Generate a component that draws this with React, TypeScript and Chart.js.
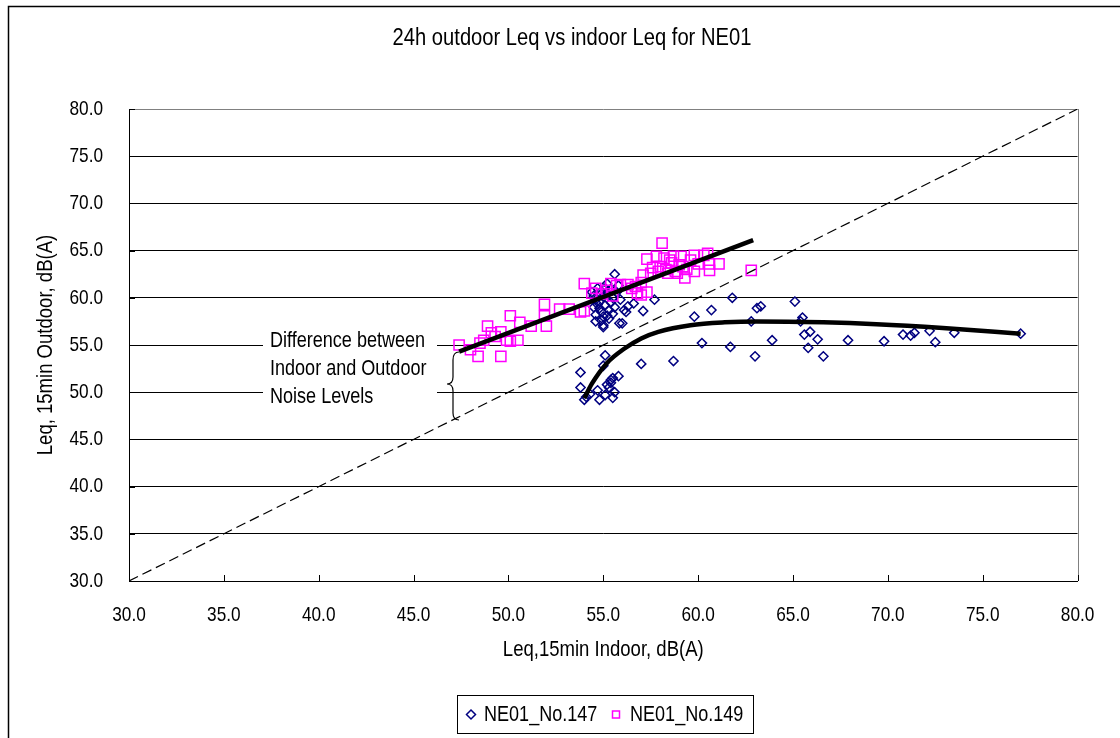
import React, { useEffect, useRef } from "react";
import { Chart, registerables } from "chart.js";

Chart.register(...registerables);

const FONT = '"Liberation Sans", Arial, sans-serif';
const NARROW = 0.82; // emulate the condensed face of the reference

const chartTitle = "24h outdoor Leq vs indoor Leq for NE01";
const xTitle = "Leq,15min Indoor, dB(A)";
const yTitle = "Leq, 15min Outdoor, dB(A)";
const seriesNames = ["NE01_No.147", "NE01_No.149"];
const noteLines = ["Difference between", "Indoor and Outdoor", "Noise Levels"];

const axisMin = 30;
const axisMax = 80;
const axisStep = 5;

// NE01_No.147 (indoor, outdoor)
const no147: [number, number][] = [
  [54.4, 60.6], [54.5, 60.2], [54.6, 59.8], [54.7, 59.3], [54.8, 58.9], [54.9, 58.5], [55.0, 58.0],
  [54.6, 58.2], [54.5, 59.0], [54.8, 59.6], [55.0, 60.1], [55.2, 60.5], [55.1, 59.2], [55.3, 58.7],
  [55.4, 59.5], [55.2, 58.1], [54.9, 57.6], [55.0, 57.1], [55.3, 57.8], [55.5, 58.3], [55.6, 59.0],
  [55.5, 60.0], [55.7, 60.6], [55.2, 61.5], [55.6, 62.5], [54.7, 61.0], [55.9, 59.8], [56.1, 58.7],
  [55.85, 57.3], [55.0, 56.9], [54.6, 57.5], [55.4, 60.9], [54.9, 60.7], [55.1, 61.0], [55.8, 61.3],
  [56.2, 58.5], [56.3, 59.1], [56.6, 59.4], [57.1, 58.6], [57.7, 59.8], [56.0, 57.3],
  [59.8, 58.0], [60.7, 58.7], [61.8, 60.0], [60.2, 55.2], [61.7, 54.8], [63.0, 53.8], [62.8, 57.5],
  [63.1, 58.9], [63.3, 59.1], [63.9, 55.5], [65.1, 59.6], [65.5, 57.9], [65.4, 57.5], [65.6, 56.1],
  [65.9, 56.4], [66.3, 55.6], [65.8, 54.7], [66.6, 53.8], [67.9, 55.5], [69.8, 55.4], [70.8, 56.1],
  [71.2, 56.0], [71.4, 56.3], [72.2, 56.5], [72.5, 55.3], [73.5, 56.3], [77.0, 56.2], [58.7, 53.3],
  [57.0, 53.0],
  [55.1, 53.9], [55.0, 52.8], [53.8, 52.1], [53.8, 50.5], [54.0, 49.2], [54.1, 49.5], [54.7, 50.2],
  [54.8, 49.2], [55.2, 50.8], [55.4, 51.3], [55.8, 51.7], [55.5, 49.4], [55.6, 50.0], [55.1, 49.7],
  [55.3, 50.5], [55.4, 51.0], [55.5, 51.5], [54.3, 49.8],
];

// NE01_No.149 (indoor, outdoor)
const no149: [number, number][] = [
  [47.4, 55.0], [48.0, 54.5], [48.4, 53.8], [48.5, 55.2], [48.7, 55.5], [48.9, 57.0], [49.1, 56.3],
  [49.3, 55.9], [49.6, 56.4], [49.6, 53.8], [49.9, 55.5], [50.1, 55.4], [50.1, 58.1], [50.6, 57.4],
  [51.2, 57.0], [51.9, 59.3], [51.9, 58.1], [52.0, 57.0], [52.7, 58.8], [53.2, 58.8], [53.8, 58.5],
  [54.0, 61.5], [54.4, 60.5], [54.6, 61.0], [54.9, 60.4], [55.2, 60.8], [55.4, 61.5], [55.7, 61.3],
  [55.9, 61.4], [56.3, 61.4], [56.5, 61.0], [56.8, 60.5], [57.0, 60.3], [57.3, 60.6], [57.1, 62.4],
  [57.0, 61.6], [57.3, 64.1], [57.5, 62.6], [57.6, 63.2], [57.8, 64.4], [58.0, 63.3], [58.1, 65.8],
  [58.2, 64.2], [58.3, 63.0], [58.4, 62.6], [58.6, 63.7], [58.7, 64.4], [58.8, 62.8], [58.9, 62.6],
  [59.0, 63.5], [59.1, 64.4], [59.3, 62.1], [59.4, 63.0], [59.6, 64.0], [59.8, 62.8], [59.8, 64.5],
  [60.0, 63.6], [60.3, 64.5], [60.6, 63.6], [60.6, 62.9], [60.5, 64.7], [61.1, 63.6], [62.8, 62.9],
  [57.9, 62.8], [58.5, 64.0], [59.2, 63.3], [56.7, 61.2], [54.0, 58.6], [55.5, 60.2], [50.5, 55.5],
];

// trend curves
const trend147: [number, number][] = [
  [54.0, 49.35], [54.4, 50.9], [55.2, 53.1], [56.1, 54.6], [57.0, 55.7], [57.9, 56.4], [59.6, 57.1],
  [61.4, 57.4], [63.1, 57.5], [66.6, 57.4], [69.4, 57.2], [72.9, 56.8], [77.0, 56.2],
];
const trend149: [number, number][] = [[47.4, 54.3], [62.9, 66.1]];
const equalLine: [number, number][] = [[30, 30], [80, 80]];

const toXY = (arr: [number, number][]) => arr.map(([x, y]) => ({ x, y }));

const NAVY = "#000080";
const MAGENTA = "#FF00FF";

const decor = {
  id: "decor",
  beforeDatasetsDraw(chart: any) {
    const { ctx, chartArea: a } = chart;
    const xs = chart.scales.x;
    const ys = chart.scales.y;
    ctx.save();
    ctx.lineWidth = 1;
    ctx.strokeStyle = "#808080";
    ctx.beginPath();
    const r = Math.round(a.right) + 0.5;
    ctx.moveTo(r, a.top);
    ctx.lineTo(r, a.bottom);
    ctx.stroke();
    ctx.strokeStyle = "#000";
    ctx.beginPath();
    for (let v = axisMin + axisStep; v <= axisMax; v += axisStep) {
      const px = Math.round(xs.getPixelForValue(v)) + 0.5;
      ctx.moveTo(px, a.bottom);
      ctx.lineTo(px, a.bottom - 6);
      const py = Math.round(ys.getPixelForValue(v)) + 0.5;
      ctx.moveTo(a.left, py);
      ctx.lineTo(a.left + 6, py);
    }
    ctx.stroke();
    // annotation
    ctx.fillStyle = "#fff";
    ctx.fillRect(263, 327, 174, 84);
    ctx.fillStyle = "#000";
    ctx.font = "22px " + FONT;
    ctx.textAlign = "left";
    ctx.textBaseline = "middle";
    noteLines.forEach((t, i) => ctx.fillText(t, 270, 341 + i * 28));
    // brace
    ctx.lineWidth = 1.2;
    ctx.beginPath();
    ctx.moveTo(459, 352);
    ctx.quadraticCurveTo(453, 352, 453, 360);
    ctx.lineTo(453, 377);
    ctx.quadraticCurveTo(453, 384, 447, 384);
    ctx.quadraticCurveTo(453, 384, 453, 391);
    ctx.lineTo(453, 413);
    ctx.quadraticCurveTo(453, 420, 459, 420);
    ctx.stroke();
    ctx.restore();
  },
  afterDraw(chart: any) {
    const { ctx } = chart;
    ctx.save();
    // title
    ctx.fillStyle = "#000";
    ctx.font = "24.6px " + FONT;
    ctx.textAlign = "center";
    ctx.textBaseline = "middle";
    ctx.fillText(chartTitle, 572, 38);
    // outer border
    ctx.strokeStyle = "#000";
    ctx.lineWidth = 1.5;
    ctx.beginPath();
    ctx.moveTo(8.5, 740);
    ctx.lineTo(8.5, 6.5);
    ctx.lineTo(1122, 6.5);
    ctx.stroke();
    // legend
    ctx.lineWidth = 1;
    ctx.strokeRect(457.5, 695.5, 296, 38);
    ctx.strokeStyle = NAVY;
    ctx.lineWidth = 1.5;
    ctx.beginPath();
    ctx.moveTo(471, 710);
    ctx.lineTo(475.5, 714.5);
    ctx.lineTo(471, 719);
    ctx.lineTo(466.5, 714.5);
    ctx.closePath();
    ctx.stroke();
    ctx.strokeStyle = MAGENTA;
    ctx.strokeRect(612.5, 711, 7, 7);
    ctx.fillStyle = "#000";
    ctx.font = "22px " + FONT;
    ctx.textAlign = "left";
    ctx.textBaseline = "middle";
    ctx.fillText(seriesNames[0], 484, 715);
    ctx.fillText(seriesNames[1], 630, 715);
    ctx.restore();
  },
};

function condenseText(ctx: any) {
  const orig = ctx.fillText;
  ctx.fillText = function (text: string, x: number, y: number, maxWidth?: number) {
    this.save();
    this.translate(x, y);
    this.scale(NARROW, 1);
    if (maxWidth !== undefined) orig.call(this, text, 0, 0, maxWidth / NARROW);
    else orig.call(this, text, 0, 0);
    this.restore();
  };
}

export default function App() {
  const ref = useRef<HTMLCanvasElement>(null);
  useEffect(() => {
    if (!ref.current) return;
    const ctx2d = ref.current.getContext("2d");
    condenseText(ctx2d);
    Chart.defaults.font.family = FONT;
    Chart.defaults.color = "#000";
    const chart = new Chart(ref.current, {
      type: "scatter",
      data: {
        datasets: [
          {
            label: "trend147",
            data: toXY(trend147),
            showLine: true,
            borderColor: "#000",
            borderWidth: 4.5,
            pointRadius: 0,
            cubicInterpolationMode: "monotone",
            order: 0,
          } as any,
          {
            label: "trend149",
            data: toXY(trend149),
            showLine: true,
            borderColor: "#000",
            borderWidth: 4.5,
            pointRadius: 0,
            order: 0,
          },
          {
            label: "equal",
            data: toXY(equalLine),
            showLine: true,
            borderColor: "#000",
            borderWidth: 1.2,
            borderDash: [10, 5],
            pointRadius: 0,
            order: 0,
          },
          {
            label: seriesNames[0],
            data: toXY(no147),
            pointStyle: "rectRot",
            pointRadius: 4.6,
            pointBorderWidth: 1.5,
            borderColor: NAVY,
            backgroundColor: "rgba(0,0,0,0)",
            pointBackgroundColor: "rgba(0,0,0,0)",
            order: 2,
          },
          {
            label: seriesNames[1],
            data: toXY(no149),
            pointStyle: "rect",
            pointRadius: 7.2,
            pointBorderWidth: 1.5,
            borderColor: MAGENTA,
            backgroundColor: "rgba(0,0,0,0)",
            pointBackgroundColor: "rgba(0,0,0,0)",
            order: 1,
          },
        ],
      },
      options: {
        responsive: false,
        animation: false,
        layout: { padding: { left: 0, right: 38, top: 109, bottom: 57 } },
        plugins: {
          legend: { display: false },
          tooltip: { enabled: false },
          title: { display: false },
        },
        scales: {
          x: {
            type: "linear",
            min: axisMin,
            max: axisMax,
            afterFit: (s: any) => { s.height = 100; },
            ticks: {
              stepSize: axisStep,
              padding: 22,
              font: { size: 21 },
              color: "#000",
              maxRotation: 0,
              autoSkip: false,
              callback: (v: any) => Number(v).toFixed(1),
            },
            grid: { display: false, drawTicks: false },
            border: { display: true, color: "#000", width: 1 },
            title: {
              display: true,
              text: xTitle,
              color: "#000",
              font: { size: 22.6 },
              padding: { top: 0, bottom: 17.5 },
            },
          },
          y: {
            type: "linear",
            min: axisMin,
            max: axisMax,
            afterFit: (s: any) => { s.width = 129; },
            ticks: {
              stepSize: axisStep,
              padding: 26,
              font: { size: 21 },
              color: "#000",
              callback: (v: any) => Number(v).toFixed(1),
            },
            grid: {
              drawTicks: false,
              lineWidth: 1,
              color: (c: any) => (c.tick && c.tick.value === axisMax ? "#808080" : "#000"),
            },
            border: { display: true, color: "#000", width: 1 },
            title: {
              display: true,
              text: yTitle,
              color: "#000",
              font: { size: 22.6 },
              padding: { top: 32.5, bottom: 0 },
            },
          },
        },
      },
      plugins: [decor],
    });
    return () => chart.destroy();
  }, []);
  return (
    <canvas
      ref={ref}
      width={1120}
      height={738}
      style={{ position: "fixed", left: 0, top: 0, display: "block" }}
    />
  );
}
